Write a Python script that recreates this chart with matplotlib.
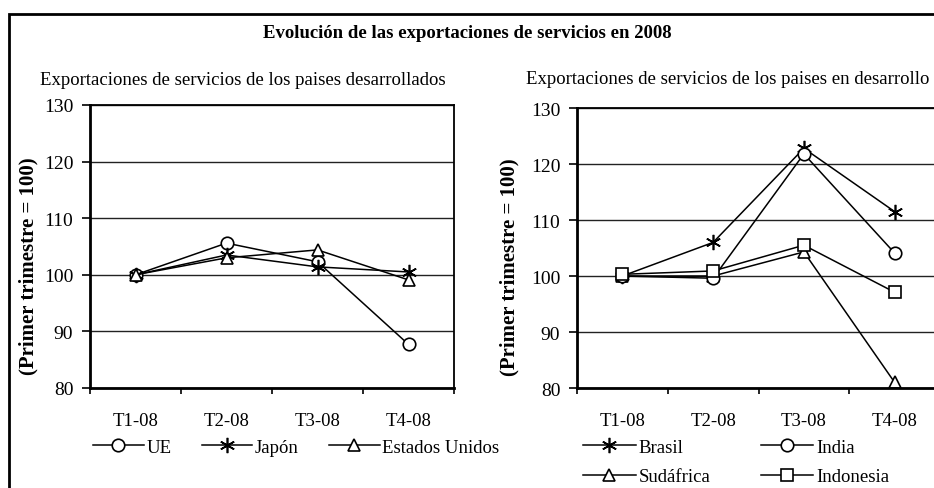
import matplotlib.pyplot as plt
from matplotlib.patches import Rectangle

plt.rcParams['font.family'] = ['Liberation Serif', 'DejaVu Serif']

trimestres = ['T1-08', 'T2-08', 'T3-08', 'T4-08']

# paises desarrollados
ue = [100, 105.6, 102.3, 87.7]
japon = [100, 103.5, 101.4, 100.5]
eeuu = [100, 103.0, 104.4, 99.1]

# paises en desarrollo
brasil = [100, 106.0, 122.8, 111.5]
india = [100, 99.6, 121.8, 104.1]
sudafrica = [100, 100.0, 104.3, 81.0]
indonesia = [100.3, 100.9, 105.5, 97.1]

asterisco = (6, 2, 0)


def estilo_eje(ax, pad_label):
    ax.set_ylim(80, 130)
    ax.set_xlim(-0.5, 3.5)
    ax.set_yticks(range(80, 131, 10))
    ax.set_xticks(range(4))
    ax.set_xticklabels(trimestres, fontsize=13.5)
    ax.set_xticks([-0.5, 0.5, 1.5, 2.5, 3.5], minor=True)
    ax.tick_params(axis='x', which='major', length=0, pad=17)
    ax.tick_params(axis='x', which='minor', length=4, width=1.2, direction='out')
    ax.tick_params(axis='y', length=6, width=1.2, direction='out', labelsize=14, pad=6)
    ax.yaxis.grid(True, color='#222222', lw=1.0)
    ax.set_axisbelow(True)
    for lado in ['left', 'bottom']:
        ax.spines[lado].set_linewidth(2.0)
    for lado in ['top', 'right']:
        ax.spines[lado].set_linewidth(1.3)
    ax.set_ylabel('(Primer trimestre = 100)', fontsize=15, fontweight='bold',
                  labelpad=pad_label)
    # la etiqueta esta algo mas abajo que el centro del eje
    ax.yaxis.label.set_y(0.435)


def serie(ax, valores, marca, etiqueta, ms=9):
    ax.plot(range(4), valores, color='black', lw=1.1, marker=marca, ms=ms,
            mfc='white', mec='black', mew=1.2, label=etiqueta, clip_on=False)


fig = plt.figure(figsize=(9.34, 4.89), dpi=100)

# marco exterior
fig.patches.append(Rectangle((9 / 934, -0.2), 1.0, 1.2 - 15 / 489, transform=fig.transFigure,
                             fill=False, lw=2.0, ec='black'))

fig.text(0.5, 1 - 33 / 489, 'Evolución de las exportaciones de servicios en 2008',
         ha='center', va='center', fontsize=13.5, fontweight='bold')

ax1 = fig.add_axes([90 / 934, 1 - 389 / 489, 364 / 934, 283 / 489])
serie(ax1, ue, 'o', 'UE')
serie(ax1, japon, asterisco, 'Japón', ms=11)
serie(ax1, eeuu, '^', 'Estados Unidos')
estilo_eje(ax1, 4)
fig.text(40 / 934, 1 - 81 / 489, 'Exportaciones de servicios de los paises desarrollados',
         ha='left', va='center', fontsize=13.5)
ax1.legend(loc='center left', bbox_to_anchor=(93 / 934, 1 - 448 / 489),
           bbox_transform=fig.transFigure, ncol=3, frameon=False, fontsize=13.5,
           handlelength=2.7, columnspacing=1.6, handletextpad=0.15, borderaxespad=0,
           borderpad=0)

ax2 = fig.add_axes([577 / 934, 1 - 389 / 489, 363 / 934, 280 / 489])
serie(ax2, brasil, asterisco, 'Brasil', ms=11)
serie(ax2, sudafrica, '^', 'Sudáfrica')
serie(ax2, india, 'o', 'India')
serie(ax2, indonesia, 's', 'Indonesia')
estilo_eje(ax2, 8)
fig.text(526 / 934, 1 - 79 / 489, 'Exportaciones de servicios de los paises en desarrollo',
         ha='left', va='center', fontsize=13.5)
ax2.legend(loc='center left', bbox_to_anchor=(583 / 934, 1 - 463 / 489),
           bbox_transform=fig.transFigure, ncol=2, frameon=False, fontsize=13.5,
           handlelength=2.8, columnspacing=2.7, handletextpad=0.15, labelspacing=0.65,
           borderaxespad=0, borderpad=0)

fig.savefig('out.png', dpi=100)
